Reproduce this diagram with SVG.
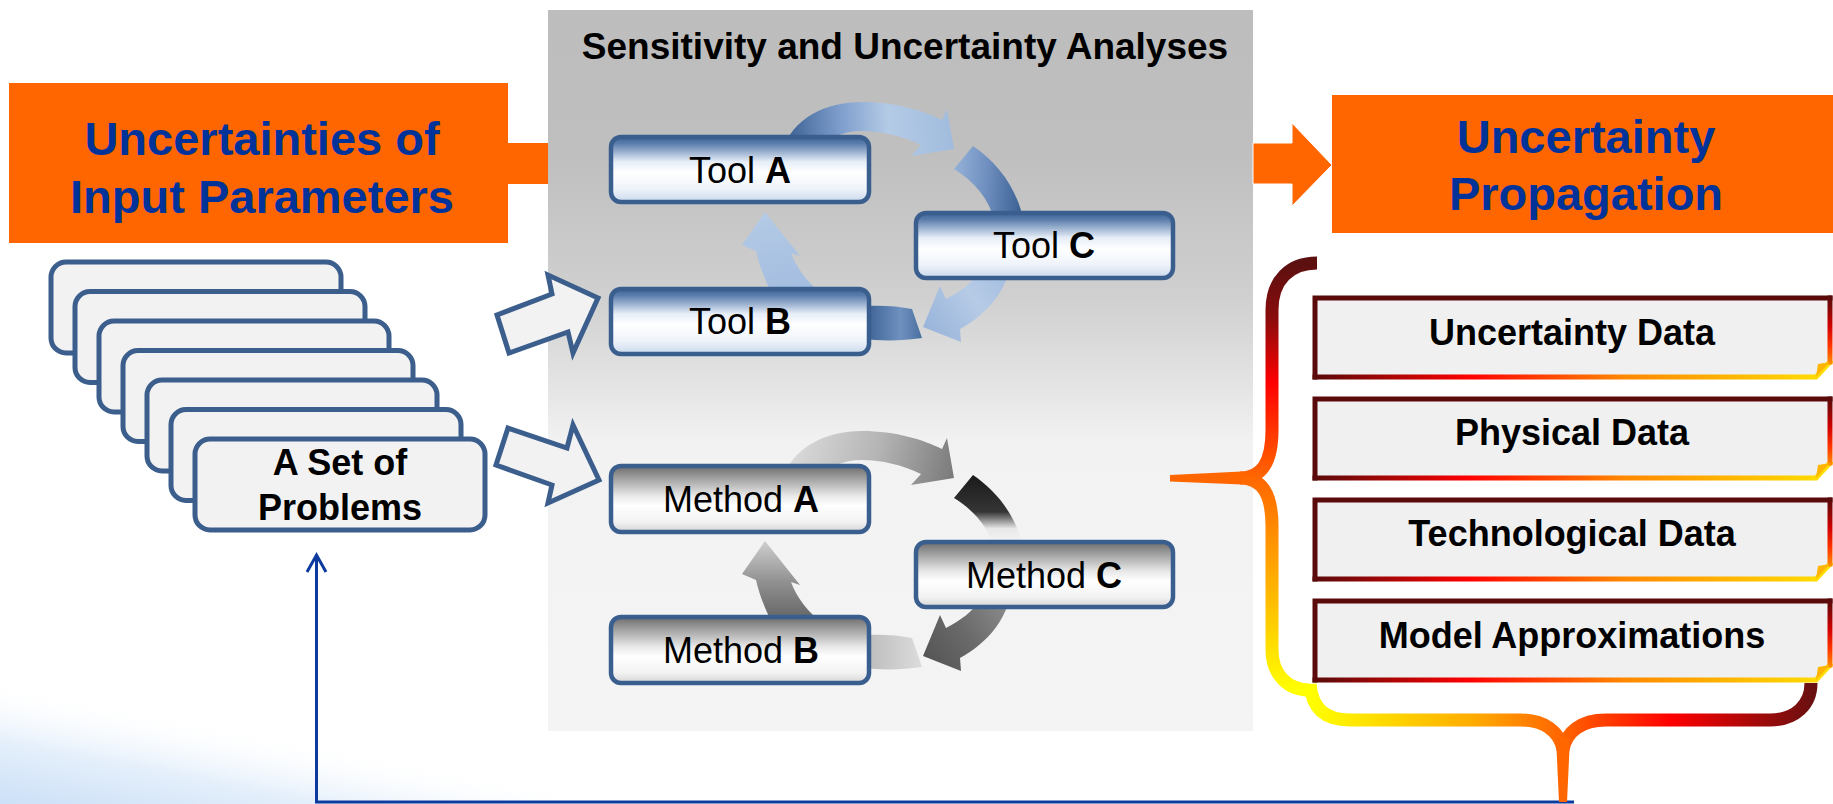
<svg xmlns="http://www.w3.org/2000/svg" width="1833" height="804" viewBox="0 0 1833 804">
<defs>
<style>
text{font-family:"Liberation Sans",Arial,sans-serif}
.big{font-size:47px;font-weight:bold;fill:#003399;text-anchor:middle}
.title{font-size:37px;font-weight:bold;fill:#000;text-anchor:middle}
.tl{font-size:36px;fill:#000;text-anchor:middle}
.bt{font-size:36px;font-weight:bold;fill:#000;text-anchor:middle}
.tool{fill:url(#gTool);stroke:#3a5f8f;stroke-width:4.5}
.meth{fill:url(#gMeth);stroke:#3a5f8f;stroke-width:4.5}
.card{fill:#f2f2f2;stroke:#3b5e8c;stroke-width:5}
.hollow{fill:#f2f2f2;stroke:#3b5e8c;stroke-width:5;stroke-linejoin:miter}
.orange{fill:#ff6600}
.dfill{fill:#f0f0f0}
.dtop{fill:none;stroke:#5a0a0a;stroke-width:5;stroke-linecap:square}
.dbot{fill:none;stroke:url(#gDBot);stroke-width:5;stroke-linecap:square}
.dright{fill:none;stroke:url(#gDRight);stroke-width:5;stroke-linecap:square}
</style>
<linearGradient id="gBg" gradientUnits="userSpaceOnUse" x1="0" y1="804" x2="23" y2="684">
<stop offset="0" stop-color="#cce0f7"/><stop offset="0.5" stop-color="#e4effb"/><stop offset="1" stop-color="#ffffff" stop-opacity="0"/>
</linearGradient>
<linearGradient id="gPanel" x1="0" y1="0" x2="0" y2="1">
<stop offset="0" stop-color="#bdbdbd"/><stop offset="0.2" stop-color="#bfbfbf"/><stop offset="0.4" stop-color="#d0d0d0"/><stop offset="0.52" stop-color="#e4e4e4"/><stop offset="0.6" stop-color="#f2f2f2"/><stop offset="1" stop-color="#f4f4f4"/>
</linearGradient>
<linearGradient id="gTool" x1="0" y1="0" x2="0" y2="1">
<stop offset="0" stop-color="#3c6395"/><stop offset="0.1" stop-color="#5a7dac"/><stop offset="0.38" stop-color="#e6edf7"/><stop offset="0.55" stop-color="#ffffff"/><stop offset="0.8" stop-color="#eef3fa"/><stop offset="1" stop-color="#cbd9ec"/>
</linearGradient>
<linearGradient id="gMeth" x1="0" y1="0" x2="0" y2="1">
<stop offset="0" stop-color="#6b6b6b"/><stop offset="0.12" stop-color="#8e8e8e"/><stop offset="0.45" stop-color="#e8e8e8"/><stop offset="0.6" stop-color="#ffffff"/><stop offset="0.85" stop-color="#f2f2f2"/><stop offset="1" stop-color="#d5d5d5"/>
</linearGradient>
<linearGradient id="gT1" gradientUnits="userSpaceOnUse" x1="790" y1="140" x2="955" y2="130">
<stop offset="0" stop-color="#3f6596"/><stop offset="0.3" stop-color="#7c9ccb"/><stop offset="0.6" stop-color="#b4cbe6"/><stop offset="1" stop-color="#a0bbdd"/>
</linearGradient>
<linearGradient id="gT2a" gradientUnits="userSpaceOnUse" x1="955" y1="170" x2="1024" y2="175">
<stop offset="0" stop-color="#93b0d6"/><stop offset="0.45" stop-color="#7090c0"/><stop offset="1" stop-color="#3b6194"/>
</linearGradient>
<linearGradient id="gT2b" gradientUnits="userSpaceOnUse" x1="1005" y1="275" x2="925" y2="330">
<stop offset="0" stop-color="#a6bfe0"/><stop offset="0.4" stop-color="#b6cbe6"/><stop offset="1" stop-color="#98b4da"/>
</linearGradient>
<linearGradient id="gT3a" gradientUnits="userSpaceOnUse" x1="868" y1="0" x2="922" y2="0">
<stop offset="0" stop-color="#3e6496"/><stop offset="0.6" stop-color="#6f91c0"/><stop offset="1" stop-color="#4a6f9f"/>
</linearGradient>
<linearGradient id="gT3b" gradientUnits="userSpaceOnUse" x1="790" y1="296" x2="765" y2="212">
<stop offset="0" stop-color="#a3bde0"/><stop offset="1" stop-color="#b4cae5"/>
</linearGradient>
<linearGradient id="gM1" gradientUnits="userSpaceOnUse" x1="800" y1="110" x2="950" y2="150">
<stop offset="0" stop-color="#d8d8d8"/><stop offset="0.5" stop-color="#b5b5b5"/><stop offset="1" stop-color="#7c7c7c"/>
</linearGradient>
<linearGradient id="gM2a" gradientUnits="userSpaceOnUse" x1="0" y1="146" x2="0" y2="213">
<stop offset="0" stop-color="#1a1a1a"/><stop offset="0.55" stop-color="#353535"/><stop offset="0.8" stop-color="#e8e8e8"/><stop offset="1" stop-color="#f4f4f4"/>
</linearGradient>
<linearGradient id="gM2b" gradientUnits="userSpaceOnUse" x1="1005" y1="275" x2="925" y2="330">
<stop offset="0" stop-color="#8a8a8a"/><stop offset="0.5" stop-color="#6a6a6a"/><stop offset="1" stop-color="#555555"/>
</linearGradient>
<linearGradient id="gM3a" gradientUnits="userSpaceOnUse" x1="868" y1="0" x2="922" y2="0">
<stop offset="0" stop-color="#bdbdbd"/><stop offset="1" stop-color="#dcdcdc"/>
</linearGradient>
<linearGradient id="gM3b" gradientUnits="userSpaceOnUse" x1="0" y1="296" x2="0" y2="212">
<stop offset="0" stop-color="#5f5f5f"/><stop offset="0.5" stop-color="#8f8f8f"/><stop offset="1" stop-color="#cfcfcf"/>
</linearGradient>
<linearGradient id="gBraceL" gradientUnits="userSpaceOnUse" x1="0" y1="263" x2="0" y2="690">
<stop offset="0" stop-color="#5c1010"/><stop offset="0.13" stop-color="#8a0c0c"/><stop offset="0.28" stop-color="#ff0000"/><stop offset="0.5" stop-color="#ff6600"/><stop offset="0.75" stop-color="#ffb000"/><stop offset="1" stop-color="#ffff00"/>
</linearGradient>
<linearGradient id="gBraceB" gradientUnits="userSpaceOnUse" x1="1310" y1="0" x2="1811" y2="0">
<stop offset="0" stop-color="#ffff00"/><stop offset="0.33" stop-color="#ffaa00"/><stop offset="0.5" stop-color="#ff6600"/><stop offset="0.72" stop-color="#ff0000"/><stop offset="1" stop-color="#6b1010"/>
</linearGradient>
<linearGradient id="gDBot" gradientUnits="userSpaceOnUse" x1="0" y1="0" x2="515" y2="0">
<stop offset="0" stop-color="#5a0a0a"/><stop offset="0.3" stop-color="#ff0000"/><stop offset="0.6" stop-color="#ff8800"/><stop offset="1" stop-color="#ffe000"/>
</linearGradient>
<linearGradient id="gDRight" gradientUnits="userSpaceOnUse" x1="0" y1="0" x2="0" y2="79">
<stop offset="0" stop-color="#5a0a0a"/><stop offset="0.35" stop-color="#d00000"/><stop offset="0.6" stop-color="#ff3300"/><stop offset="1" stop-color="#ffcc00"/>
</linearGradient>
</defs>

<rect x="0" y="0" width="1833" height="804" fill="#ffffff"/>
<rect x="0" y="560" width="1833" height="244" fill="url(#gBg)"/>

<g id="panel">
<rect x="548" y="10" width="705" height="721" fill="url(#gPanel)"/>
<text class="title" x="905" y="59">Sensitivity and Uncertainty Analyses</text>
</g>

<g id="connectors">
<rect class="orange" x="506" y="143" width="42" height="41"/>
<path class="orange" d="M1253,143 H1292 V123 L1332,165 L1292,206 V184 H1253 Z" stroke="#ffffff" stroke-width="1"/>
<g id="tool-cycle">
<path fill="url(#gT1)" d="M782,152 C792,118 826,102 862,102 C896,102 924,111 942,120 L947,109 L954,149 L911,156 L921,145 C902,136 882,131 862,131 C843,131 826,138 818,152 Z"/>
<path fill="url(#gT2a)" d="M973,146 C998,163 1017,188 1024,222 L995,222 C989,199 975,182 954,169 Z"/>
<path fill="url(#gT2b)" d="M1009,272 C1002,296 984,316 960,329 L961,342 L923,327 L940,286 L946,299 C961,291 972,283 979,272 Z"/>
<path fill="url(#gT3a)" d="M862,306 C882,305 898,306 912,309 L922,338 C902,341 882,341 862,339 Z"/>
<path fill="url(#gT3b)" d="M773,296 C765,280 759,265 756,251 L742,245 L765,212 L800,256 L791,253 C797,269 808,283 824,296 Z"/>
</g>
<g id="method-cycle" transform="translate(0,329)">
<path fill="url(#gM1)" d="M782,152 C792,118 826,102 862,102 C896,102 924,111 942,120 L947,109 L954,149 L911,156 L921,145 C902,136 882,131 862,131 C843,131 826,138 818,152 Z"/>
<path fill="url(#gM2a)" d="M973,146 C998,163 1017,188 1024,222 L995,222 C989,199 975,182 954,169 Z"/>
<path fill="url(#gM2b)" d="M1009,272 C1002,296 984,316 960,329 L961,342 L923,327 L940,286 L946,299 C961,291 972,283 979,272 Z"/>
<path fill="url(#gM3a)" d="M862,306 C882,305 898,306 912,309 L922,338 C902,341 882,341 862,339 Z"/>
<path fill="url(#gM3b)" d="M773,296 C765,280 759,265 756,251 L742,245 L765,212 L800,256 L791,253 C797,269 808,283 824,296 Z"/>
</g>
<polygon class="hollow" points="509,353 497,315 552,294 548,275 598,298 573,353 568,332"/>
<polygon class="hollow" points="508,428 567,448 573,425 599,480 548,503 552,485 496,465"/>
<path d="M316.5,556 V802 H1574" fill="none" stroke="#0d3a9e" stroke-width="3"/>
<path d="M307,572 L316.5,555 L326,572" fill="none" stroke="#0d3a9e" stroke-width="3" stroke-linejoin="miter"/>
</g>

<g id="brace">
<path d="M1317,263 C1290,263 1272,280 1272,310 L1272,430 C1272,462 1262,478 1240,478 C1262,478 1272,494 1272,526 L1272,650 C1272,675 1288,690 1310,690" fill="none" stroke="url(#gBraceL)" stroke-width="13"/>
<polygon points="1170,475 1242,471.5 1242,484.5 1170,481.5" fill="#ff6600"/>
<path d="M1310,684 C1312,708 1325,720 1350,720 L1520,720 C1545,720 1560,732 1563,750 C1566,732 1581,720 1606,720 L1770,720 C1795,720 1811,705 1811,683" fill="none" stroke="url(#gBraceB)" stroke-width="13"/>
<polygon points="1556,738 1570,738 1567,802 1559,802" fill="#ff6600"/>
</g>

<g id="tool-a"><rect class="tool" x="611" y="137" width="258" height="65" rx="10"/><text class="tl" x="740" y="183">Tool <tspan font-weight="bold">A</tspan></text></g>
<g id="tool-c"><rect class="tool" x="916" y="213" width="257" height="65" rx="10"/><text class="tl" x="1044" y="258">Tool <tspan font-weight="bold">C</tspan></text></g>
<g id="tool-b"><rect class="tool" x="611" y="289" width="258" height="65" rx="10"/><text class="tl" x="740" y="334">Tool <tspan font-weight="bold">B</tspan></text></g>
<g id="method-a"><rect class="meth" x="611" y="466" width="258" height="66" rx="10"/><text class="tl" x="741" y="512">Method <tspan font-weight="bold">A</tspan></text></g>
<g id="method-c"><rect class="meth" x="916" y="542" width="257" height="65" rx="10"/><text class="tl" x="1044" y="588">Method <tspan font-weight="bold">C</tspan></text></g>
<g id="method-b"><rect class="meth" x="611" y="617" width="258" height="66" rx="10"/><text class="tl" x="741" y="663">Method <tspan font-weight="bold">B</tspan></text></g>

<g id="problems">
<rect class="card" x="51" y="262" width="290" height="91" rx="15"/>
<rect class="card" x="75" y="291.5" width="290" height="91" rx="15"/>
<rect class="card" x="99" y="321" width="290" height="91" rx="15"/>
<rect class="card" x="123" y="350.5" width="290" height="91" rx="15"/>
<rect class="card" x="147" y="380" width="290" height="91" rx="15"/>
<rect class="card" x="171" y="409.5" width="290" height="91" rx="15"/>
<rect class="card" x="195" y="439" width="290" height="91" rx="15"/>
<text class="bt" x="340" y="475">A Set of</text>
<text class="bt" x="340" y="520">Problems</text>
</g>

<g id="uncertainty-data" transform="translate(1315,298)">
<path class="dfill" d="M0,0 H515 V64 L501,79 H0 Z"/>
<path class="dtop" d="M0,79 V0 H515"/><path class="dbot" d="M0,79 H501 L515,64"/><path class="dright" d="M515,0 V64"/>
<polygon points="503,66 515,64 501,79" fill="#ffb400"/>
<text class="bt" x="257" y="47">Uncertainty Data</text>
</g>
<g id="physical-data" transform="translate(1315,399)">
<path class="dfill" d="M0,0 H515 V64 L501,79 H0 Z"/>
<path class="dtop" d="M0,79 V0 H515"/><path class="dbot" d="M0,79 H501 L515,64"/><path class="dright" d="M515,0 V64"/>
<polygon points="503,66 515,64 501,79" fill="#ffb400"/>
<text class="bt" x="257" y="46">Physical Data</text>
</g>
<g id="technological-data" transform="translate(1315,500)">
<path class="dfill" d="M0,0 H515 V64 L501,79 H0 Z"/>
<path class="dtop" d="M0,79 V0 H515"/><path class="dbot" d="M0,79 H501 L515,64"/><path class="dright" d="M515,0 V64"/>
<polygon points="503,66 515,64 501,79" fill="#ffb400"/>
<text class="bt" x="257" y="46">Technological Data</text>
</g>
<g id="model-approximations" transform="translate(1315,601)">
<path class="dfill" d="M0,0 H515 V64 L501,79 H0 Z"/>
<path class="dtop" d="M0,79 V0 H515"/><path class="dbot" d="M0,79 H501 L515,64"/><path class="dright" d="M515,0 V64"/>
<polygon points="503,66 515,64 501,79" fill="#ffb400"/>
<text class="bt" x="257" y="47">Model Approximations</text>
</g>

<g id="input-uncertainties">
<rect class="orange" x="9" y="83" width="499" height="160"/>
<text class="big" x="262" y="155">Uncertainties of</text>
<text class="big" x="262" y="213">Input Parameters</text>
</g>
<g id="uncertainty-propagation">
<rect class="orange" x="1332" y="95" width="501" height="138"/>
<text class="big" x="1586" y="153">Uncertainty</text>
<text class="big" x="1586" y="210">Propagation</text>
</g>
</svg>
